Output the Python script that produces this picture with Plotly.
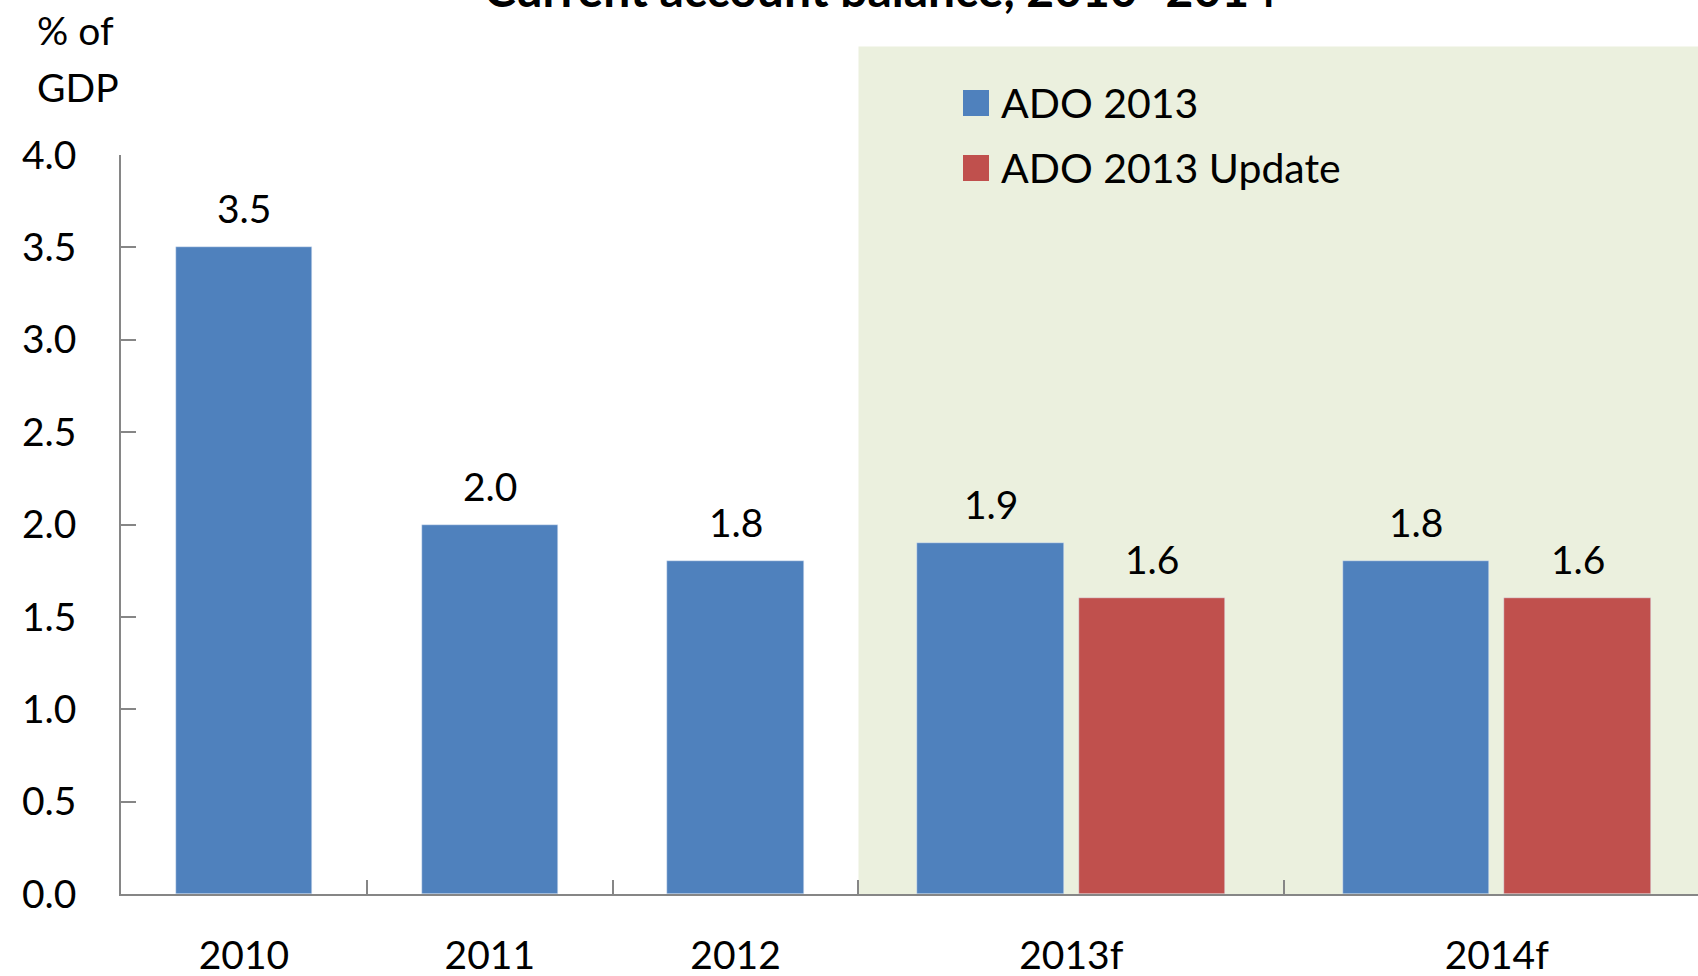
import plotly.graph_objects as go

# ---- data ----
categories = ["2010", "2011", "2012", "2013f", "2014f"]
ado_2013 = [3.5, 2.0, 1.8, 1.9, 1.8]
ado_2013_update = [None, None, None, 1.6, 1.6]
series_names = ["ADO 2013", "ADO 2013 Update"]
title_text = "Current account balance, 2010–2014"
y_title = ["% of", "GDP"]

# ---- layout helpers (positions, not data) ----
BLUE = "#4F81BD"
RED = "#C0504D"
SHADE = "#EBF0DE"
FONT = "Lato"
FS = 39

cat_widths = [1.0, 1.0, 1.0, 1.731, 1.731]
single_w = 0.555
pair_w = 0.595
pair_gap = 0.062

bounds = [0.0]
for w in cat_widths:
    bounds.append(bounds[-1] + w)
centers = [(bounds[i] + bounds[i + 1]) / 2 for i in range(len(categories))]

blue_x, blue_w, red_x, red_y, red_w = [], [], [], [], []
for i, c in enumerate(categories):
    if ado_2013_update[i] is None:
        blue_x.append(centers[i]); blue_w.append(single_w)
    else:
        off = pair_w / 2 + pair_gap / 2
        blue_x.append(centers[i] - off); blue_w.append(pair_w)
        red_x.append(centers[i] + off); red_y.append(ado_2013_update[i]); red_w.append(pair_w)

W, H = 1698, 976
L, R, T, B = 121, 0, 155, 82
PW, PH = W - L - R, H - T - B

def px(x):
    return (x - L) / PW

def py(y):
    return (H - B - y) / PH

x_max = 6.415

fig = go.Figure()
fig.add_trace(go.Bar(x=blue_x, y=ado_2013, width=blue_w, marker_color=BLUE,
                     name=series_names[0], showlegend=False))
fig.add_trace(go.Bar(x=red_x, y=red_y, width=red_w, marker_color=RED,
                     name=series_names[1], showlegend=False))

annotations = []
for xv, yv in zip(blue_x + red_x, ado_2013 + red_y):
    annotations.append(dict(x=xv, y=yv, xref="x", yref="y", text=f"{yv:.1f}",
                            showarrow=False, yanchor="bottom", yshift=14,
                            font=dict(family=FONT, size=FS, color="black")))

# y-axis unit label
annotations.append(dict(x=px(35), y=py(30), xref="paper", yref="paper", text=y_title[0],
                        showarrow=False, xanchor="left", yanchor="middle",
                        font=dict(family=FONT, size=FS, color="black")))
annotations.append(dict(x=px(35), y=py(87), xref="paper", yref="paper", text=y_title[1],
                        showarrow=False, xanchor="left", yanchor="middle",
                        font=dict(family=FONT, size=FS, color="black")))
# title (partially cut off at top, as in reference)
annotations.append(dict(x=px(880), y=py(8), xref="paper", yref="paper",
                        text=f"<b>{title_text}</b>", showarrow=False,
                        xanchor="center", yanchor="bottom", yshift=-11,
                        font=dict(family=FONT, size=48, color="black")))

# shaded forecast region + manual legend
shapes = [dict(type="rect", xref="x", yref="paper", x0=bounds[3], x1=x_max + 1,
               y0=0, y1=py(46.5), fillcolor=SHADE, line_width=0, layer="below")]
leg_y = [103, 168]
for name, col, yy in zip(series_names, [BLUE, RED], leg_y):
    shapes.append(dict(type="rect", xref="paper", yref="paper",
                       x0=px(963), x1=px(989), y0=py(yy + 13), y1=py(yy - 13),
                       fillcolor=col, line_width=0))
    annotations.append(dict(x=px(999), y=py(yy), xref="paper", yref="paper", text=name,
                            showarrow=False, xanchor="left", yanchor="middle",
                            font=dict(family=FONT, size=41, color="black")))

fig.update_layout(
    width=W, height=H, autosize=False,
    margin=dict(l=L, r=R, t=T, b=B, pad=0, autoexpand=False),
    paper_bgcolor="white", plot_bgcolor="rgba(0,0,0,0)",
    font=dict(family=FONT, size=FS, color="black"),
    shapes=shapes, annotations=annotations, showlegend=False,
    bargap=0,
)
fig.update_xaxes(range=[0, x_max], tickmode="array", tickvals=centers, ticktext=categories,
                 ticks="", showgrid=False, zeroline=False, showline=True, automargin=False,
                 linecolor="#868686", linewidth=2, ticklabelstandoff=26,
                 tickfont=dict(family=FONT, size=FS, color="black"),
                 minor=dict(tickmode="array", tickvals=bounds[1:5], ticks="inside",
                            ticklen=14, tickcolor="#868686", tickwidth=1.5, showgrid=False))
fig.update_yaxes(range=[0, 4], tickmode="linear", tick0=0, dtick=0.5, tickformat=".1f",
                 ticks="inside", ticklen=15, tickcolor="#868686", tickwidth=1.5, automargin=False,
                 showgrid=False, zeroline=False, showline=True, linecolor="#868686",
                 linewidth=1.5, ticklabelstandoff=35,
                 tickfont=dict(family=FONT, size=FS, color="black"))

fig.write_html("out.html", config={"displayModeBar": False},
               post_script="document.body.style.margin='0';")
